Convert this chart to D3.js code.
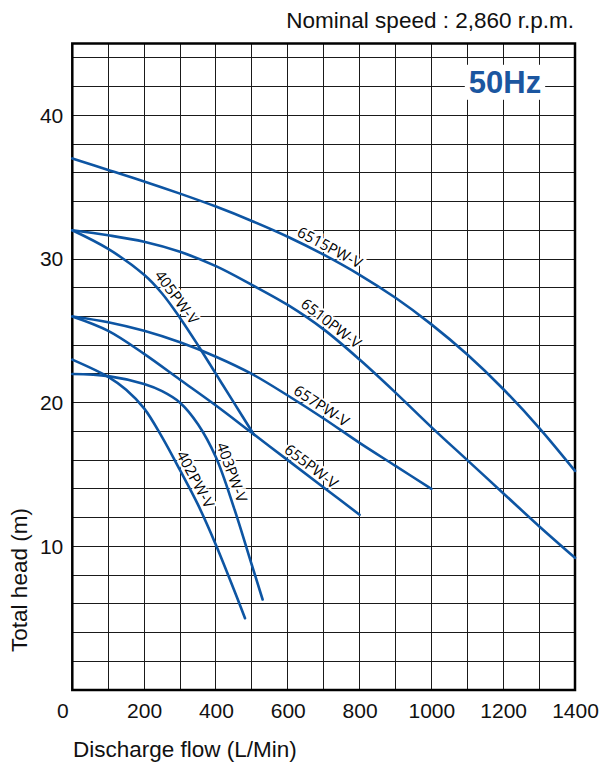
<!DOCTYPE html>
<html>
<head>
<meta charset="utf-8">
<script src="https://cdn.jsdelivr.net/npm/d3@7"></script>
<style>
  html, body { margin: 0; padding: 0; background: #fff; }
  svg { display: block; }
</style>
</head>
<body>
<svg id="chart" width="603" height="763"></svg>
<script>
// ---- data ----
const xTicks = [0, 200, 400, 600, 800, 1000, 1200, 1400];
const yTicks = [10, 20, 30, 40];
const seriesNames = ["6515PW-V", "6510PW-V", "657PW-V", "655PW-V", "405PW-V", "403PW-V", "402PW-V"];
const s6515 = [[0,37],[100,36.2],[200,35.4],[300,34.55],[400,33.65],[500,32.65],[600,31.55],[700,30.3],[800,28.9],[900,27.3],[1000,25.45],[1100,23.35],[1200,20.95],[1300,18.25],[1400,15.25]];
const s6510 = [[0,32],[100,31.65],[200,31.2],[300,30.5],[400,29.5],[500,28.2],[600,26.8],[700,25.1],[800,23.0],[900,20.7],[1000,18.3],[1100,16.0],[1200,13.7],[1300,11.4],[1400,9.2]];
const s657  = [[0,26],[100,25.6],[200,25.0],[300,24.2],[400,23.2],[500,22.0],[600,20.5],[700,18.9],[800,17.2],[900,15.6],[1000,14.0]];
const s655  = [[0,26],[100,25.0],[200,23.4],[300,21.6],[400,19.8],[500,17.9],[600,16.0],[700,14.1],[800,12.2]];
const s405  = [[0,32],[100,30.7],[200,28.9],[250,27.6],[300,25.9],[350,24.0],[400,22.0],[450,20.0],[505,17.8]];
const s403  = [[0,22],[100,21.85],[200,21.3],[250,20.8],[300,20.0],[350,18.5],[400,16.2],[450,12.7],[500,8.7],[530,6.3]];
const s402  = [[0,23],[100,21.8],[150,20.9],[200,19.6],[250,17.6],[300,15.3],[350,12.9],[400,10.1],[450,7.0],[481,5.0]];
const labelAt = [705, 705, 680, 650, 270, 420, 320]; // flow where each curve's label sits
const hzLabel = "50Hz";
const speedNote = "Nominal speed : 2,860 r.p.m.";
const xTitle = "Discharge flow (L/Min)";
const yTitle = "Total head (m)";

const seriesData = [s6515, s6510, s657, s655, s405, s403, s402];

// ---- layout ----
const W = 603, H = 763;
const m = { left: 72.3, right: 28, top: 43.5, bottom: 73 };
const x = d3.scaleLinear().domain([0, 1400]).range([m.left, W - m.right]);
const y = d3.scaleLinear().domain([0, 45]).range([H - m.bottom, m.top]);
const blue = "#0d55a3";
const font = "'Liberation Sans', Arial, sans-serif";

const svg = d3.select("#chart");

// grid
const grid = svg.append("g").attr("stroke", "#1a1a1a").attr("stroke-width", 1).attr("shape-rendering", "crispEdges");
grid.selectAll("line.v").data(d3.range(100, 1400, 100)).join("line")
  .attr("x1", d => x(d)).attr("x2", d => x(d)).attr("y1", y(0)).attr("y2", y(45));
grid.selectAll("line.h").data(d3.range(2, 45, 2)).join("line")
  .attr("x1", x(0)).attr("x2", x(1400)).attr("y1", d => y(d)).attr("y2", d => y(d));

// 50Hz badge
const hz = svg.append("g");
const hzRect = hz.append("rect").attr("fill", "#fff");
const hzText = hz.append("text")
  .attr("x", x(1205)).attr("y", y(42.3))
  .attr("text-anchor", "middle").attr("dominant-baseline", "central")
  .attr("font-family", font).attr("font-weight", "bold").attr("font-size", 31)
  .attr("fill", "#1b56a0").text(hzLabel);
const hb = hzText.node().getBBox();
hzRect.attr("x", hb.x - 4).attr("y", hb.y).attr("width", hb.width + 8).attr("height", hb.height);

// frame
svg.append("rect")
  .attr("x", x(0)).attr("y", y(45)).attr("width", x(1400) - x(0)).attr("height", y(0) - y(45))
  .attr("fill", "none").attr("stroke", "#000").attr("stroke-width", 2.5);

// curves
const line = d3.line().x(d => x(d[0])).y(d => y(d[1])).curve(d3.curveCatmullRom.alpha(0.5));
const curveG = svg.append("g");
const labelG = svg.insert("g", () => curveG.node());
const paths = seriesData.map(s => curveG.append("path")
  .attr("d", line(s)).attr("fill", "none").attr("stroke", blue).attr("stroke-width", 2.6)
  .attr("stroke-linecap", "round").node());

// labels along curves
function pointAtX(path, px) {
  const L = path.getTotalLength();
  let lo = 0, hi = L;
  for (let i = 0; i < 40; i++) {
    const mid = (lo + hi) / 2;
    if (path.getPointAtLength(mid).x < px) lo = mid; else hi = mid;
  }
  return lo;
}
paths.forEach((p, i) => {
  const len = pointAtX(p, x(labelAt[i]));
  const a = p.getPointAtLength(Math.max(0, len - 6));
  const b = p.getPointAtLength(len + 6);
  const c = p.getPointAtLength(len);
  const ang = Math.atan2(b.y - a.y, b.x - a.x) * 180 / Math.PI;
  labelG.append("text")
    .attr("transform", `translate(${c.x},${c.y}) rotate(${ang})`)
    .attr("y", -4)
    .attr("text-anchor", "middle")
    .attr("font-family", "'Open Sans', 'Noto Sans', sans-serif")
    .attr("font-size", 15)
    .attr("fill", "#000")
    .attr("stroke", "#fff").attr("stroke-width", 4).attr("paint-order", "stroke")
    .text(seriesNames[i]);
});

// axes
const xAxis = svg.append("g").attr("transform", `translate(0,${y(0)})`)
  .call(d3.axisBottom(x).tickValues(xTicks).tickFormat(d3.format("d")).tickSize(0).tickPadding(13));
const yAxis = svg.append("g").attr("transform", `translate(${x(0)},0)`)
  .call(d3.axisLeft(y).tickValues(yTicks).tickFormat(d3.format("d")).tickSize(0).tickPadding(9));
[xAxis, yAxis].forEach(g => {
  g.select(".domain").remove();
  g.selectAll("text").attr("font-family", font).attr("font-size", 21).attr("fill", "#111");
});
xAxis.selectAll(".tick").filter(d => d === 0).select("text").attr("dx", -10);

// titles
svg.append("text").attr("x", 574).attr("y", 28).attr("text-anchor", "end")
  .attr("font-family", font).attr("font-size", 22.5).attr("fill", "#111").text(speedNote);
svg.append("text").attr("x", 73).attr("y", 757)
  .attr("font-family", font).attr("font-size", 22.5).attr("fill", "#111").text(xTitle);
svg.append("text").attr("transform", "translate(27,580) rotate(-90)").attr("text-anchor", "middle")
  .attr("font-family", font).attr("font-size", 22.5).attr("fill", "#111").text(yTitle);
</script>
</body>
</html>
